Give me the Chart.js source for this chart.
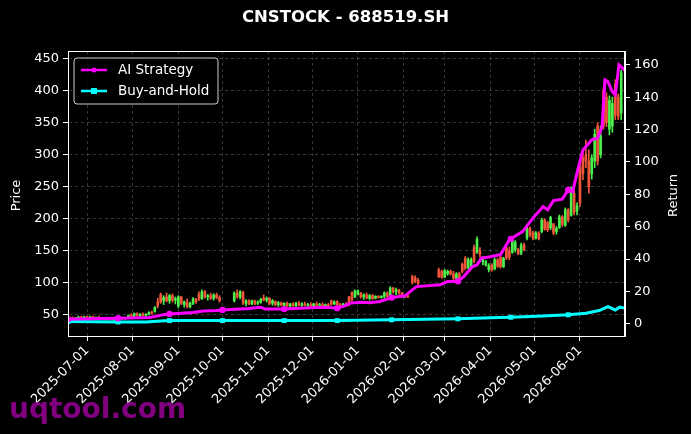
<!DOCTYPE html>
<html>
<head>
<meta charset="utf-8">
<script src="https://cdn.jsdelivr.net/npm/chart.js@4.4.1/dist/chart.umd.min.js"></script>
<style>
html, body { margin: 0; padding: 0; background: #000; }
#wrap { width: 691px; height: 434px; position: relative; }
</style>
</head>
<body>
<div id="wrap"><canvas id="myChart"></canvas></div>
<script>
// all x positions are days counted from 2025-07-01
const candleDays = [-12, -10, -8, -6, -4, -2, 0, 2, 4, 6, 8, 10, 12, 14, 16, 18, 20, 22, 24, 26,
    28, 30, 32, 34, 36, 38, 40, 42, 44, 46, 48, 50, 52, 54, 56, 58, 60, 62, 64, 66,
    68, 70, 72, 74, 76, 78, 80, 82, 84, 86, 88, 90, 100, 102, 104, 106, 108, 110, 112, 114,
    116, 118, 120, 122, 124, 126, 128, 130, 132, 134, 136, 138, 140, 142, 144, 146, 148, 150, 152, 154,
    156, 158, 160, 162, 164, 166, 168, 170, 172, 174, 176, 178, 180, 182, 184, 186, 188, 190, 192, 194,
    196, 198, 200, 202, 204, 206, 208, 210, 212, 214, 216, 218, 221, 223, 225, 239, 241, 243, 245, 247,
    249, 251, 253, 255, 257, 259, 261, 263, 265, 267, 269, 271, 273, 275, 277, 279, 281, 283, 285, 287,
    289, 291, 293, 295, 297, 299, 301, 303, 305, 307, 309, 311, 313, 315, 317, 319, 321, 323, 325, 327,
    329, 331, 333, 335, 337, 339, 341, 343, 345, 347, 349, 351, 353, 355, 357, 359, 361, 363];
const openVals = [44, 45, 44, 45, 47, 45, 47, 46, 47, 45, 46, 45, 44, 43, 44, 43, 44, 43, 44, 45,
    46, 49, 48, 52, 49, 51, 49, 51, 54, 55, 70, 82, 72, 78, 72, 80, 73, 64, 78, 66,
    70, 63, 68, 74, 82, 75, 86, 78, 80, 76, 81, 77, 72, 84, 78, 85, 68, 72, 67, 72,
    68, 70, 76, 73, 76, 68, 71, 66, 69, 65, 68, 64, 67, 64, 68, 65, 67, 65, 66, 64,
    67, 65, 66, 64, 66, 72, 67, 71, 66, 65, 67, 78, 85, 78, 82, 84, 78, 81, 76, 80,
    76, 79, 77, 79, 84, 80, 92, 86, 89, 84, 79, 80, 110, 108, 104, 120, 118, 109, 114, 118,
    114, 107, 114, 129, 138, 123, 126, 155, 148, 150, 133, 128, 121, 128, 122, 136, 140, 125, 154, 150,
    148, 152, 152, 146, 159, 170, 185, 178, 170, 178, 180, 198, 194, 186, 192, 180, 186, 203, 190, 214,
    205, 240, 212, 280, 295, 300, 290, 270, 290, 345, 300, 400, 390, 340, 345, 410, 390, 365];
const highVals = [46, 47, 46, 48, 48, 48, 48, 48, 48, 47, 48, 46, 45, 45, 45, 45, 45, 45, 46, 46,
    50, 52, 53, 53, 52, 53, 52, 55, 56, 63, 76, 84, 80, 84, 82, 83, 78, 80, 79, 72,
    75, 70, 77, 76, 86, 89, 88, 82, 84, 83, 84, 80, 86, 89, 88, 87, 74, 74, 73, 73,
    72, 76, 81, 78, 77, 74, 72, 71, 70, 69, 70, 68, 69, 70, 71, 69, 70, 68, 69, 68,
    70, 68, 69, 67, 68, 73, 72, 72, 68, 68, 69, 79, 86, 89, 89, 85, 83, 84, 82, 82,
    80, 80, 80, 86, 86, 94, 93, 92, 90, 85, 81, 81, 112, 111, 107, 123, 120, 121, 120, 120,
    118, 116, 117, 131, 141, 139, 139, 159, 172, 155, 141, 135, 130, 130, 139, 138, 141, 140, 157, 156,
    170, 166, 154, 162, 162, 188, 187, 181, 180, 180, 201, 200, 196, 204, 193, 188, 206, 205, 217, 216,
    250, 245, 225, 287, 305, 323, 308, 300, 340, 350, 345, 405, 397, 392, 390, 417, 395, 432];
const lowVals = [42, 43, 43, 44, 44, 44, 45, 44, 45, 43, 44, 43, 42, 42, 42, 41, 42, 42, 43, 43,
    45, 47, 47, 48, 47, 48, 48, 50, 51, 54, 61, 68, 66, 70, 68, 70, 67, 61, 66, 62,
    61, 61, 66, 68, 72, 74, 76, 73, 74, 73, 75, 70, 70, 76, 75, 66, 64, 66, 66, 66,
    66, 68, 72, 70, 66, 65, 64, 63, 64, 63, 63, 62, 63, 63, 64, 63, 64, 62, 63, 62,
    64, 62, 63, 62, 63, 65, 66, 65, 62, 63, 63, 64, 71, 77, 81, 76, 74, 75, 73, 74,
    75, 76, 76, 76, 77, 79, 84, 81, 82, 77, 77, 77, 98, 100, 97, 108, 107, 108, 112, 112,
    105, 106, 106, 115, 120, 122, 125, 131, 146, 140, 128, 126, 117, 118, 120, 124, 123, 124, 136, 136,
    146, 148, 144, 144, 150, 167, 172, 167, 168, 167, 178, 182, 180, 183, 175, 176, 185, 188, 188, 195,
    204, 206, 206, 219, 261, 280, 240, 262, 280, 284, 295, 340, 344, 331, 335, 355, 355, 355];
const closeVals = [45, 44, 45, 47, 45, 47, 46, 47, 45, 46, 45, 44, 43, 44, 43, 44, 43, 44, 45, 44,
    49, 48, 52, 49, 51, 49, 51, 54, 52, 62, 64, 70, 77, 72, 80, 73, 75, 78, 68, 70,
    63, 68, 75, 70, 75, 86, 78, 80, 76, 81, 77, 72, 84, 78, 86, 68, 72, 67, 72, 68,
    70, 74, 73, 76, 68, 72, 66, 69, 65, 68, 64, 67, 64, 68, 65, 67, 65, 66, 64, 67,
    65, 66, 64, 66, 64, 67, 70, 66, 65, 67, 64, 67, 74, 87, 88, 78, 81, 76, 80, 75,
    79, 77, 79, 84, 79, 92, 86, 89, 84, 79, 80, 78, 101, 102, 99, 110, 109, 119, 118, 114,
    107, 114, 108, 118, 123, 136, 137, 134, 168, 145, 139, 133, 127, 120, 136, 126, 125, 138, 139, 140,
    166, 163, 145, 159, 152, 185, 175, 170, 178, 169, 198, 184, 183, 202, 178, 185, 203, 191, 214, 198,
    245, 210, 220, 225, 270, 290, 250, 295, 332, 290, 330, 345, 350, 385, 380, 362, 360, 428];

const stratDays = [-13, 9, 21, 42, 46, 54, 56, 72, 79, 88, 92, 110, 118, 121, 134, 152, 162, 170, 175, 179,
    186, 192, 199, 207, 216, 221, 224, 240, 245, 252, 256, 262, 265, 268, 274, 281, 287, 288, 296, 303,
    310, 313, 317, 323, 327, 330, 334, 337, 343, 347, 350, 352, 354, 357, 359, 361.5, 364, 365.5];
const stratReturn = [2.9, 3.3, 3.5, 3.9, 4.5, 6.0, 6.1, 7.0, 8.0, 8.2, 8.6, 9.5, 10.3, 9.1, 9.1, 9.9, 10.3, 9.7, 11.1, 12.8,
    13.4, 13.1, 13.8, 16.2, 17.3, 21.0, 23.0, 24.1, 26.1, 26.3, 29.2, 35.4, 36.4, 40.6, 41.5, 42.8, 51.9, 52.5, 57.0, 65.3,
    72.4, 70.4, 76.1, 77.0, 82.7, 81.6, 97.0, 107.4, 113.6, 114.8, 121.6, 150.6, 149.6, 143.4, 141.4, 159.9, 157.8, 156.8];
const holdDays = [-13, 21, 40, 50, 56, 92, 134, 170, 207, 230, 252, 280, 288, 310, 327, 339, 348, 354, 359, 362, 365.5];
const holdReturn = [1.4, 1.2, 1.2, 1.8, 2.0, 2.0, 2.0, 2.0, 2.5, 2.8, 3.1, 3.9, 4.1, 4.8, 5.6, 6.6, 8.2, 10.7, 8.6, 10.3, 9.7];
const markerDays = [-13, 21, 56, 92, 134, 170, 207, 252, 288, 327];

const tickDays = [0, 31, 62, 92, 123, 153, 184, 215, 243, 274, 304, 335];
const tickLabels = ['2025-07-01', '2025-08-01', '2025-09-01', '2025-10-01', '2025-11-01', '2025-12-01',
    '2026-01-01', '2026-02-01', '2026-03-01', '2026-04-01', '2026-05-01', '2026-06-01'];
const priceTicks = [50, 100, 150, 200, 250, 300, 350, 400, 450];
const returnTicks = [0, 20, 40, 60, 80, 100, 120, 140, 160];

const upColor = '#4cf04c';
const downColor = '#f0553a';
const gridColor = 'rgba(150,150,150,0.45)';
const tickFont = { family: 'DejaVu Sans', size: 13 };

function candleColor(ctx) {
    const i = ctx.dataIndex;
    return closeVals[i] >= openVals[i] ? upColor : downColor;
}

const wickData = candleDays.map((d, i) => ({ x: d, y: [lowVals[i], highVals[i]] }));
const bodyData = candleDays.map((d, i) => ({ x: d, y: [openVals[i], closeVals[i]] }));

function markerRadius(days, r) {
    return ctx => markerDays.includes(days[ctx.dataIndex]) ? r : 0;
}

// title, frame, axis titles, legend box and watermark, placed like matplotlib does
const decoPlugin = {
    id: 'deco',
    afterDraw(chart) {
        const ctx = chart.ctx;
        const area = chart.chartArea;
        const midY = (area.top + area.bottom) / 2 + 2;
        ctx.save();
        ctx.strokeStyle = 'white';
        ctx.lineWidth = 1;
        ctx.strokeRect(area.left + 0.5, area.top + 0.5, area.right - area.left - 1, area.bottom - area.top);

        ctx.fillStyle = 'white';
        ctx.font = 'bold 16.5px "DejaVu Sans"';
        ctx.textAlign = 'center';
        ctx.textBaseline = 'middle';
        ctx.fillText('CNSTOCK - 688519.SH', 345.5, 18);

        // axis titles, both read bottom to top
        ctx.font = '13px "DejaVu Sans"';
        [['Price', 17], ['Return', 674]].forEach(([txt, x]) => {
            ctx.save();
            ctx.translate(x, midY);
            ctx.rotate(-Math.PI / 2);
            ctx.fillText(txt, 0, 0);
            ctx.restore();
        });

        // legend
        const bx = area.left + 6, by = area.top + 7, bw = 144, bh = 46;
        ctx.beginPath();
        ctx.roundRect(bx, by, bw, bh, 3);
        ctx.fillStyle = 'rgba(0,0,0,0.8)';
        ctx.fill();
        ctx.strokeStyle = '#cccccc';
        ctx.lineWidth = 1;
        ctx.stroke();
        const entries = chart.data.datasets.filter(ds => ds.type === 'line');
        entries.forEach((ds, k) => {
            const y = by + 12 + k * 21;
            ctx.strokeStyle = ds.borderColor;
            ctx.lineWidth = 2.5;
            ctx.beginPath();
            ctx.moveTo(bx + 7, y);
            ctx.lineTo(bx + 33, y);
            ctx.stroke();
            ctx.fillStyle = ds.borderColor;
            if (ds.pointStyle === 'rect') {
                ctx.fillRect(bx + 17, y - 3, 6, 6);
            } else {
                ctx.beginPath();
                ctx.arc(bx + 20, y, 2.5, 0, Math.PI * 2);
                ctx.fill();
            }
            ctx.fillStyle = 'white';
            ctx.font = '13.5px "DejaVu Sans"';
            ctx.textAlign = 'left';
            ctx.textBaseline = 'middle';
            ctx.fillText(ds.label, bx + 44, y);
        });

        // watermark
        ctx.fillStyle = 'rgba(150,0,150,0.85)';
        ctx.font = 'bold 28px "DejaVu Sans"';
        ctx.textAlign = 'left';
        ctx.textBaseline = 'alphabetic';
        ctx.fillText('uqtool.com', 9, 418);
        ctx.restore();
    }
};

new Chart(document.getElementById('myChart'), {
    type: 'bar',
    data: {
        datasets: [
            {
                type: 'line', label: 'AI Strategy', yAxisID: 'y1', order: 0,
                data: stratDays.map((d, i) => ({ x: d, y: stratReturn[i] })),
                borderColor: '#ff00ff', backgroundColor: '#ff00ff', borderWidth: 3,
                pointStyle: 'circle', pointRadius: markerRadius(stratDays, 3.2), pointBorderWidth: 0,
                tension: 0
            },
            {
                type: 'line', label: 'Buy-and-Hold', yAxisID: 'y1', order: 1,
                data: holdDays.map((d, i) => ({ x: d, y: holdReturn[i] })),
                borderColor: '#00ffff', backgroundColor: '#00ffff', borderWidth: 3,
                pointStyle: 'rect', pointRadius: markerRadius(holdDays, 3.5), pointBorderWidth: 0,
                tension: 0
            },
            {
                label: 'body', yAxisID: 'y', order: 2, grouped: false,
                data: bodyData, backgroundColor: candleColor, barThickness: 2
            },
            {
                label: 'wick', yAxisID: 'y', order: 3, grouped: false,
                data: wickData, backgroundColor: candleColor, barThickness: 1
            }
        ]
    },
    options: {
        responsive: true,
        maintainAspectRatio: false,
        animation: false,
        events: [],
        layout: { padding: { top: 51, left: 0, right: 0, bottom: 0 } },
        plugins: {
            legend: { display: false },
            title: { display: false },
            tooltip: { enabled: false }
        },
        scales: {
            x: {
                type: 'linear', min: -13, max: 365.6, offset: false,
                afterBuildTicks: s => { s.ticks = tickDays.map(v => ({ value: v })); },
                afterFit: s => { s.height = 98; },
                ticks: {
                    autoSkip: false, minRotation: 45, maxRotation: 45, color: 'white', font: tickFont, padding: 2,
                    callback: v => { const k = tickDays.indexOf(v); return k < 0 ? '' : tickLabels[k]; }
                },
                grid: { offset: false, color: gridColor, lineWidth: 0.8, tickColor: 'white', tickLength: 5, tickWidth: 1 },
                border: { color: 'white', width: 1, dash: [3, 3] }
            },
            y: {
                type: 'linear', position: 'left', min: 17, max: 462,
                afterBuildTicks: s => { s.ticks = priceTicks.map(v => ({ value: v })); },
                afterFit: s => { s.width = 68; },
                ticks: { color: 'white', font: tickFont, padding: 4 },
                grid: { color: gridColor, lineWidth: 0.8, tickColor: 'white', tickLength: 5, tickWidth: 1 },
                border: { color: 'white', width: 1, dash: [3, 3] }
            },
            y1: {
                type: 'linear', position: 'right', min: -7.5, max: 168.5,
                afterBuildTicks: s => { s.ticks = returnTicks.map(v => ({ value: v })); },
                afterFit: s => { s.width = 66; },
                ticks: { color: 'white', font: tickFont, padding: 4 },
                grid: { drawOnChartArea: false, tickColor: 'white', tickLength: 5, tickWidth: 1 },
                border: { color: 'white', width: 1 }
            }
        }
    },
    plugins: [decoPlugin]
});
</script>
</body>
</html>
